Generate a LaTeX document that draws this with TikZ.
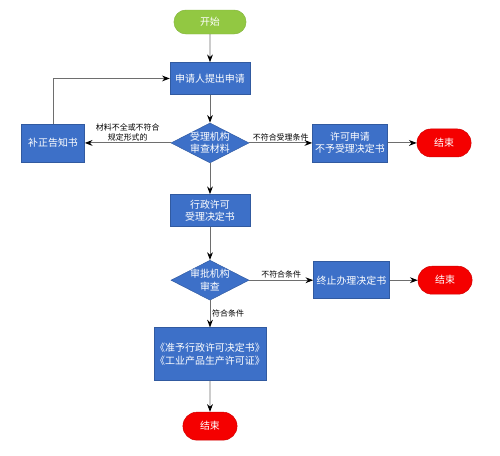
\documentclass[tikz,border=0pt]{standalone}
\usepackage{fontspec}
\setmainfont{Noto Sans CJK SC}
\usepackage{tikz}
\usetikzlibrary{positioning, shapes.geometric, shapes.misc, arrows.meta}

\definecolor{procblue}{RGB}{61,112,200}
\definecolor{startgreen}{RGB}{146,200,66}
\definecolor{endred}{RGB}{245,0,0}
\definecolor{linegray}{RGB}{110,110,110}

\begin{document}
\begin{tikzpicture}[node distance=0.84cm, >={Stealth[black]},
    proc/.style={draw=procblue!80!black, fill=procblue, rectangle, text=white, align=center, font=\fontsize{8.5}{10.5}\selectfont, inner sep=1pt},
    decide/.style={diamond, draw=procblue!80!black, fill=procblue, text=white, align=center, font=\fontsize{8.5}{10.5}\selectfont, aspect=1.95, inner sep=-2pt, minimum width=2.34cm, minimum height=1.2cm},
    term/.style={rounded rectangle, text=white, font=\fontsize{8.5}{10.5}\selectfont, minimum width=1.86cm, minimum height=0.84cm},
    lbl/.style={font=\fontsize{6.8}{8}\selectfont, align=center, inner sep=1.5pt},
    flow/.style={->, draw=linegray, line width=0.8pt}]

    \useasboundingbox (-6.3,0.66) rectangle (8.7,-13.02);

    % Main column
    \node (start) [term, fill=startgreen, draw=startgreen!90!black, minimum width=2.4cm, minimum height=0.72cm] {开始};
    \node (apply) [proc, below=of start, minimum width=2.4cm, minimum height=0.96cm] {申请人提出申请};
    \node (check) [decide, below=0.84cm of apply] {受理机构\\审查材料};
    \node (accept) [proc, below=0.93cm of check, minimum width=2.4cm, minimum height=0.96cm] {行政许可\\受理决定书};
    \node (review) [decide, below=1cm of accept] {审批机构\\审查};
    \node (grant) [proc, below=0.81cm of review, minimum width=3.3cm, minimum height=1.59cm] {《准予行政许可决定书》\\《工业产品生产许可证》};
    \node (end3) [term, fill=endred, draw=endred!85!black, below=0.93cm of grant] {结束};

    % Left column node
    \node (notice) [proc, left=2.58cm of check, minimum width=1.89cm, minimum height=1.14cm] {补正告知书};

    % Right column nodes
    \node (refuse) [proc, right=1.89cm of check, minimum width=2.25cm, minimum height=1.14cm] {许可申请\\不予受理决定书};
    \node (end1) [term, fill=endred, draw=endred!85!black, right=0.87cm of refuse] {结束};
    \node (stop) [proc, right=1.92cm of review, minimum width=2.28cm, minimum height=1.11cm] {终止办理决定书};
    \node (end2) [term, fill=endred, draw=endred!85!black, right=0.84cm of stop] {结束};

    % Arrows down the main column
    \draw[flow] (start) -- (apply);
    \draw[flow] (apply) -- (check);
    \draw[flow] (check) -- (accept);
    \draw[flow] (accept) -- (review);
    \draw[flow] (review) -- node[lbl, right] {符合条件} (grant);
    \draw[flow] (grant) -- (end3);

    % Side branches
    \draw[flow] (check.west) -- node[lbl, above] {材料不全或不符合\\规定形式的} (notice.east);
    \draw[flow] (notice.north) |- (apply.west);
    \draw[flow] (check.east) -- node[lbl, above] {不符合受理条件} (refuse.west);
    \draw[flow] (refuse.east) -- (end1.west);
    \draw[flow] (review.east) -- node[lbl, above] {不符合条件} (stop.west);
    \draw[flow] (stop.east) -- (end2.west);

\end{tikzpicture}
\end{document}
